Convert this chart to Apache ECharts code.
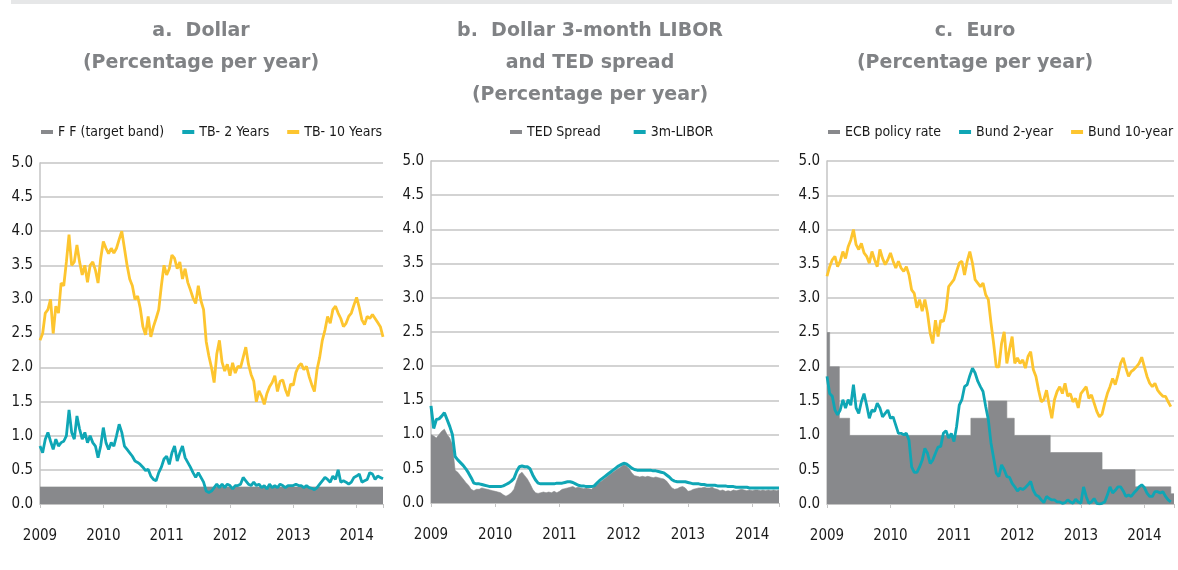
<!DOCTYPE html>
<html>
<head>
<meta charset="utf-8">
<script src="https://cdn.jsdelivr.net/npm/echarts@6/dist/echarts.min.js"></script>
<style>
  html, body { margin: 0; background: #fff; }
  #chart { width: 1178px; height: 570px; }
</style>
</head>
<body>
<div id="chart"></div>
<script>
// readings taken every half month, index k = k/2 months after Jan 2009 (k = 0..130 -> Jun 2014)
const fedFunds = 0.25;

const tb2 = [
  0.85, 0.75, 0.95, 1.05, 0.92, 0.8, 0.95, 0.85, 0.9, 0.92,
  1.0, 1.38, 1.05, 0.95, 1.29, 1.1, 0.95, 1.05, 0.9, 1.0,
  0.9, 0.85, 0.68, 0.85, 1.12, 0.9, 0.8, 0.9, 0.85, 1.0,
  1.17, 1.05, 0.85, 0.8, 0.75, 0.7, 0.63, 0.61, 0.58, 0.54,
  0.49, 0.51, 0.41, 0.36, 0.34, 0.46, 0.54, 0.66, 0.7, 0.58,
  0.75, 0.85, 0.63, 0.75, 0.85, 0.68, 0.61, 0.54, 0.46, 0.39,
  0.46, 0.39, 0.32, 0.19, 0.17, 0.19, 0.24, 0.29, 0.24, 0.29,
  0.24, 0.29, 0.27, 0.22, 0.27, 0.27, 0.29, 0.39, 0.34, 0.29,
  0.27, 0.32, 0.27, 0.29, 0.24, 0.27, 0.22, 0.29, 0.24, 0.27,
  0.24, 0.29, 0.27, 0.24, 0.27, 0.27, 0.27, 0.29, 0.27, 0.27,
  0.24, 0.27, 0.24, 0.23, 0.21, 0.24, 0.29, 0.34, 0.39, 0.36,
  0.32, 0.41, 0.36, 0.5, 0.32, 0.34, 0.32, 0.29, 0.32, 0.39,
  0.41, 0.44, 0.32, 0.34, 0.36, 0.46, 0.44, 0.36, 0.41, 0.39, 0.37
];

const tb10 = [
  2.4, 2.5, 2.8, 2.85, 3.0, 2.5, 2.9, 2.8, 3.24, 3.2,
  3.55, 3.95, 3.5, 3.55, 3.8, 3.55, 3.36, 3.5, 3.25, 3.5,
  3.55, 3.43, 3.24, 3.6, 3.85, 3.75, 3.67, 3.75, 3.68, 3.75,
  3.88, 4.0, 3.75, 3.5, 3.3, 3.2, 3.0, 3.05, 2.87, 2.6,
  2.48, 2.75, 2.45, 2.6, 2.72, 2.85, 3.2, 3.5, 3.36, 3.45,
  3.65, 3.6, 3.45, 3.55, 3.3, 3.45, 3.25, 3.14, 3.02, 2.94,
  3.2, 2.98, 2.85, 2.38, 2.17, 2.0, 1.78, 2.2, 2.4, 2.08,
  1.95, 2.05, 1.88, 2.07, 1.92, 2.02, 2.0, 2.15, 2.3, 2.05,
  1.9, 1.8, 1.5, 1.66, 1.58, 1.46, 1.62, 1.72, 1.78, 1.88,
  1.65, 1.8, 1.82, 1.68, 1.58, 1.76, 1.74, 1.93, 2.02, 2.06,
  1.97, 2.02, 1.87, 1.75, 1.65, 1.97, 2.15, 2.4, 2.55, 2.75,
  2.65, 2.85, 2.9, 2.8, 2.72, 2.6, 2.65, 2.75, 2.8, 2.92,
  3.03, 2.88, 2.7, 2.63, 2.75, 2.72, 2.78, 2.72, 2.66, 2.6, 2.45
];

const tedSpread = [
  1.0, 0.98, 0.95, 1.0, 1.05, 1.08, 1.0, 0.95, 0.85, 0.48,
  0.45, 0.4, 0.35, 0.3, 0.26, 0.2, 0.18, 0.2, 0.2, 0.22,
  0.21, 0.2, 0.19, 0.18, 0.17, 0.16, 0.15, 0.12, 0.1, 0.12,
  0.15, 0.2, 0.32, 0.42, 0.45, 0.4, 0.35, 0.28, 0.2, 0.15,
  0.14, 0.15, 0.16, 0.15, 0.16, 0.15, 0.17, 0.15, 0.17, 0.2,
  0.21, 0.22, 0.23, 0.24, 0.22, 0.23, 0.22, 0.21, 0.22, 0.21,
  0.2, 0.24, 0.26, 0.3, 0.33, 0.36, 0.39, 0.42, 0.45, 0.48,
  0.5, 0.53, 0.56, 0.54, 0.5, 0.44, 0.4, 0.39, 0.38, 0.39,
  0.38, 0.39, 0.38, 0.37, 0.38, 0.37, 0.36, 0.35, 0.32, 0.27,
  0.22, 0.2, 0.21, 0.23, 0.24, 0.22, 0.17, 0.18, 0.2, 0.21,
  0.22, 0.22, 0.23, 0.22, 0.22, 0.23, 0.21, 0.2, 0.18, 0.19,
  0.17, 0.18, 0.17, 0.19, 0.18, 0.19, 0.2, 0.19, 0.18, 0.19,
  0.18, 0.19, 0.19, 0.18, 0.19, 0.18, 0.19, 0.18, 0.19, 0.18, 0.19
];

const libor3m = [
  1.42, 1.09, 1.22, 1.23, 1.27, 1.32, 1.22, 1.12, 1.0, 0.68,
  0.63, 0.59, 0.55, 0.5, 0.44, 0.37, 0.29, 0.28, 0.28, 0.27,
  0.26, 0.25, 0.24, 0.24, 0.24, 0.24, 0.24, 0.25, 0.27, 0.29,
  0.32, 0.36, 0.46, 0.53, 0.54, 0.53, 0.53, 0.5, 0.41, 0.34,
  0.29, 0.28, 0.28, 0.28, 0.28, 0.28, 0.28, 0.29, 0.29, 0.29,
  0.3, 0.31, 0.31, 0.3, 0.28, 0.26, 0.25, 0.25, 0.24, 0.24,
  0.24, 0.25, 0.29, 0.33, 0.36, 0.39, 0.42, 0.45, 0.48, 0.51,
  0.54, 0.56, 0.58, 0.57, 0.54, 0.51, 0.49, 0.48, 0.48, 0.48,
  0.48, 0.48, 0.48, 0.47, 0.47, 0.46, 0.45, 0.44, 0.41, 0.38,
  0.34, 0.32, 0.31, 0.31, 0.31, 0.31, 0.3, 0.29, 0.28, 0.28,
  0.28, 0.27, 0.27, 0.26, 0.26, 0.26, 0.26, 0.25, 0.25, 0.25,
  0.25, 0.24, 0.24, 0.24, 0.23, 0.23, 0.23, 0.23, 0.23, 0.22,
  0.22, 0.22, 0.22, 0.22, 0.22, 0.22, 0.22, 0.22, 0.22, 0.22, 0.22
];

const bund2 = [
  1.86, 1.61, 1.57, 1.37, 1.3, 1.37, 1.52, 1.4, 1.52, 1.44,
  1.74, 1.4, 1.32, 1.49, 1.61, 1.44, 1.25, 1.37, 1.35, 1.47,
  1.4, 1.27, 1.32, 1.37, 1.25, 1.27, 1.15, 1.03, 1.03, 1.01,
  1.03, 0.93, 0.54, 0.46, 0.46, 0.54, 0.64, 0.81, 0.74, 0.59,
  0.64, 0.74, 0.83, 0.84, 1.03, 1.07, 0.96, 1.03, 0.91, 1.13,
  1.44, 1.52, 1.71, 1.74, 1.87, 1.98, 1.91, 1.79, 1.71, 1.64,
  1.42, 1.23, 0.89, 0.67, 0.45, 0.4, 0.57, 0.5, 0.4, 0.39,
  0.3, 0.25, 0.19, 0.23, 0.21, 0.24, 0.28, 0.33, 0.2, 0.13,
  0.11, 0.06, 0.02, 0.11, 0.08, 0.06, 0.06, 0.03, 0.03, 0.01,
  0.02, 0.06, 0.03, 0.01, 0.07, 0.03, 0.01, 0.25, 0.11, 0.01,
  0.03, 0.08, 0.01, 0.0, 0.01, 0.03, 0.13, 0.25, 0.16, 0.2,
  0.25, 0.25, 0.19, 0.11, 0.13, 0.11, 0.16, 0.2, 0.25, 0.28,
  0.24, 0.16, 0.11, 0.11, 0.18, 0.18, 0.16, 0.18, 0.11, 0.06, 0.03
];

const bund10 = [
  3.32, 3.46, 3.56, 3.61, 3.46, 3.54, 3.68, 3.58, 3.75, 3.85,
  4.0, 3.78, 3.71, 3.8, 3.66, 3.61, 3.51, 3.68, 3.56, 3.46,
  3.71, 3.58, 3.49, 3.56, 3.66, 3.54, 3.44, 3.54, 3.44, 3.39,
  3.46, 3.34, 3.12, 3.07, 2.86, 2.98, 2.81, 2.98, 2.78, 2.49,
  2.34, 2.68, 2.44, 2.68, 2.66, 2.83, 3.17, 3.22, 3.27, 3.39,
  3.51, 3.54, 3.34, 3.54, 3.68, 3.51, 3.27, 3.22, 3.17, 3.22,
  3.05, 2.98, 2.64, 2.34, 2.0, 2.0, 2.34, 2.51, 2.05, 2.25,
  2.44, 2.05, 2.13, 2.05, 2.1, 1.98, 2.15, 2.22, 1.96, 1.86,
  1.66, 1.49, 1.52, 1.66, 1.44, 1.25, 1.52, 1.64, 1.71, 1.61,
  1.76, 1.57, 1.61, 1.49, 1.54, 1.4, 1.61, 1.66, 1.71, 1.54,
  1.59, 1.47, 1.35, 1.27, 1.31, 1.47, 1.61, 1.71, 1.83, 1.74,
  1.88, 2.05, 2.13, 1.98, 1.86, 1.93, 1.96, 2.0, 2.05, 2.14,
  2.0, 1.86, 1.76, 1.71, 1.76, 1.66, 1.61, 1.57, 1.57, 1.49, 1.42
];

// ECB policy rate: months after Jan 2009 where a level starts, and the level
const ecbMonths = [0, 0.5, 2.33, 4.28, 27.2, 30.5, 34.0, 35.4, 42.2, 52.0, 58.25, 65.0, 65.6];
const ecbRate = [2.5, 2.0, 1.25, 1.0, 1.25, 1.5, 1.25, 1.0, 0.75, 0.5, 0.25, 0.15, 0.15];

const yTicks = [0, 0.5, 1, 1.5, 2, 2.5, 3, 3.5, 4, 4.5, 5];
const firstYear = 2009;

const GRAY = "#88898c";
const TEAL = "#0fa6b5";
const YELLOW = "#fdc52f";
const NARROW = "'DejaVu Sans Condensed', 'Liberation Sans', sans-serif";

const halfMonthly = (vals) => vals.map((v, i) => [i / 2, v]);

const chart = echarts.init(document.getElementById("chart"));

const xAxisFor = (idx, max) => ({
  type: "value",
  gridIndex: idx,
  min: 0,
  max: max,
  interval: 12,
  axisLine: { show: true, lineStyle: { color: "#c4c4c4", width: 1 } },
  axisTick: { show: true, length: 4, lineStyle: { color: "#c4c4c4" } },
  splitLine: { show: false },
  axisLabel: {
    margin: 25,
    fontFamily: NARROW,
    fontSize: 15,
    color: "#1a1a1a",
    formatter: (v) => (v % 12 === 0 ? String(firstYear + v / 12) : ""),
  },
});

const yAxisFor = (idx) => ({
  type: "value",
  gridIndex: idx,
  min: yTicks[0],
  max: yTicks[yTicks.length - 1],
  interval: yTicks[1] - yTicks[0],
  axisLine: { show: true, lineStyle: { color: "#c4c4c4", width: 1.5 } },
  axisTick: { show: false },
  splitLine: { show: true, lineStyle: { color: "#c4c4c4", width: 1.5 } },
  axisLabel: {
    margin: 7,
    fontFamily: NARROW,
    fontSize: 15,
    color: "#1a1a1a",
    formatter: (v) => v.toFixed(1),
  },
});

const titleFor = (text, x) => ({
  text: text,
  left: x,
  top: 15,
  padding: 0,
  textAlign: "center",
  textStyle: {
    fontFamily: "'DejaVu Sans', sans-serif",
    fontWeight: "bold",
    fontSize: 19,
    lineHeight: 32,
    color: "#808285",
  },
});

const legendFor = (names, x, gap) => ({
  data: names,
  left: x,
  top: 125,
  icon: "rect",
  itemWidth: 12,
  itemHeight: 4,
  itemGap: gap,
  padding: 0,
  textStyle: { fontFamily: NARROW, fontSize: 14, color: "#1a1a1a" },
});

const area = (name, idx, data, step) => ({
  name: name,
  type: "line",
  xAxisIndex: idx,
  yAxisIndex: idx,
  data: data,
  step: step,
  symbol: "none",
  lineStyle: { width: 0.6, color: GRAY },
  itemStyle: { color: GRAY },
  areaStyle: { color: GRAY, opacity: 1 },
});

const line = (name, idx, vals, color, width) => ({
  name: name,
  type: "line",
  xAxisIndex: idx,
  yAxisIndex: idx,
  data: halfMonthly(vals),
  symbol: "none",
  lineStyle: { width: width, color: color },
  itemStyle: { color: color },
});

const option = {
  animation: false,
  backgroundColor: "#fff",
  graphic: [
    { type: "rect", shape: { x: 11, y: 0, width: 1161, height: 4 }, style: { fill: "#e6e7e8" } },
  ],
  title: [
    titleFor("a.  Dollar\n(Percentage per year)", 201),
    titleFor("b.  Dollar 3-month LIBOR\nand TED spread\n(Percentage per year)", 590),
    titleFor("c.  Euro\n(Percentage per year)", 975),
  ],
  legend: [
    legendFor(["F F (target band)", "TB- 2 Years", "TB- 10 Years"], 41, 18),
    legendFor(["TED Spread", "3m-LIBOR"], 510, 33),
    legendFor(["ECB policy rate", "Bund 2-year", "Bund 10-year"], 828, 18),
  ],
  grid: [
    { left: 40, right: 795, top: 163, bottom: 66 },
    { left: 431, right: 399, top: 161, bottom: 67 },
    { left: 827, right: 4, top: 161, bottom: 66 },
  ],
  xAxis: [xAxisFor(0, 65), xAxisFor(1, 65), xAxisFor(2, 65.6)],
  yAxis: [yAxisFor(0), yAxisFor(1), yAxisFor(2)],
  series: [
    area("F F (target band)", 0, [[0, fedFunds], [65, fedFunds]], false),
    line("TB- 2 Years", 0, tb2, TEAL, 2.8),
    line("TB- 10 Years", 0, tb10, YELLOW, 2.8),

    area("TED Spread", 1, halfMonthly(tedSpread), false),
    line("3m-LIBOR", 1, libor3m, TEAL, 3),

    area("ECB policy rate", 2, ecbMonths.map((m, i) => [m, ecbRate[i]]), "end"),
    line("Bund 2-year", 2, bund2, TEAL, 2.8),
    line("Bund 10-year", 2, bund10, YELLOW, 2.8),
  ],
};

chart.setOption(option);
</script>
</body>
</html>
